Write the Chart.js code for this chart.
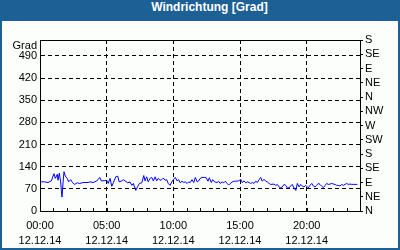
<!DOCTYPE html>
<html>
<head>
<meta charset="utf-8">
<script src="https://cdn.jsdelivr.net/npm/chart.js@4/dist/chart.umd.min.js"></script>
<style>
  body { margin: 0; background: #fff; }
  #frame { position: relative; width: 400px; height: 250px; background: #1d6096; }
  #title { position: absolute; left: 0; top: 0; width: 400px; height: 21px; line-height: 20px;
           color: #fff; font: bold 12px "Liberation Sans", Arial, sans-serif; text-align: center;
           padding-left: 19px; box-sizing: border-box; }
  #box { position: absolute; left: 2px; top: 21px; width: 396px; height: 227px; background: #fbfefb; }
  canvas { display: block; }
</style>
</head>
<body>
<div id="frame">
  <div id="title">Windrichtung [Grad]</div>
  <div id="box"><canvas id="windChart" width="396" height="227"></canvas></div>
</div>
<script>
// minutes since 00:00 on 12.12.14
const minutes = [3,21,36,51,63,69,78,81,87,93,96,99,104,108,114,123,129,138,147,156,168,179,194,216,224,239,253,261,269,276,291,300,307,315,323,330,341,350,356,368,375,383,395,405,413,420,431,440,447,458,467,473,480,487,495,503,510,518,525,532,540,548,555,563,570,577,585,593,600,609,617,624,631,639,647,654,662,669,676,684,692,699,707,714,721,729,741,748,756,762,771,777,786,797,804,811,819,827,834,842,849,856,864,872,879,894,903,910,918,926,933,941,948,956,963,971,978,986,993,1000,1008,1016,1023,1031,1038,1053,1061,1068,1076,1083,1090,1098,1106,1113,1121,1128,1135,1143,1151,1158,1166,1173,1180,1188,1196,1200,1207,1215,1223,1230,1238,1245,1252,1260,1268,1275,1283,1290,1297,1305,1313,1320,1328,1335,1342,1350,1358,1365,1373,1380,1387,1395,1403,1410,1418,1428];
const direction = [92,92,90,95,118,103,116,97,119,92,65,44,92,124,110,103,92,99,89,84,89,87,90,90,92,90,94,99,106,95,96,97,87,103,78,89,108,110,92,95,99,95,89,92,81,87,65,78,87,89,112,95,108,92,103,106,95,108,95,103,97,99,104,97,99,87,81,92,99,106,95,99,89,94,90,92,87,92,90,99,90,106,92,95,103,106,106,105,94,105,90,99,92,90,94,87,92,89,94,87,82,87,91,94,94,95,100,90,95,89,92,90,87,90,87,94,90,99,106,94,100,94,92,87,84,85,81,84,76,73,76,84,81,73,73,79,84,73,65,87,76,84,79,76,81,78,73,81,87,79,76,81,87,84,78,74,81,87,84,85,87,85,84,81,81,79,84,81,84,87,84,85,84,84,84,84];

const gradTicks = [0, 70, 140, 210, 280, 350, 420, 490];
const compass = ['N', 'NE', 'E', 'SE', 'S', 'SW', 'W', 'NW', 'N', 'NE', 'E', 'SE', 'S'];
const dateLabel = '12.12.14';

Chart.defaults.font.family = '"Liberation Sans", Arial, sans-serif';
Chart.defaults.font.size = 11;
Chart.defaults.color = '#000';

const points = minutes.map((m, i) => ({ x: m, y: direction[i] }));

function hhmm(m) {
    const h = Math.floor(m / 60);
    return (h < 10 ? '0' : '') + h + ':00';
}

// small hour marks pointing up from the bottom axis
const hourMarks = {
    id: 'hourMarks',
    afterDraw(chart) {
        const sx = chart.scales.x;
        const ctx = chart.ctx;
        const bottom = chart.chartArea.bottom;
        ctx.save();
        ctx.strokeStyle = '#000';
        ctx.lineWidth = 1;
        ctx.beginPath();
        sx.ticks.forEach(t => {
            if (t.value <= 0 || t.value >= 1440) return;
            const px = Math.round(sx.getPixelForValue(t.value)) + 0.5;
            ctx.moveTo(px, bottom);
            ctx.lineTo(px, bottom - 3);
        });
        ctx.stroke();
        ctx.restore();
    }
};

new Chart(document.getElementById('windChart').getContext('2d'), {
    type: 'line',
    data: {
        datasets: [{
            data: points,
            borderColor: '#0000ff',
            borderWidth: 1,
            pointRadius: 0,
            tension: 0,
            fill: false,
            yAxisID: 'y'
        }]
    },
    options: {
        responsive: false,
        animation: false,
        devicePixelRatio: 1,
        layout: { padding: { top: 19, left: 0, right: 0, bottom: 0 } },
        plugins: { legend: { display: false }, tooltip: { enabled: false } },
        scales: {
            x: {
                type: 'linear',
                position: 'bottom',
                min: 0,
                max: 1440,
                afterFit: s => { s.height = 37; },
                ticks: {
                    stepSize: 60,
                    autoSkip: false,
                    maxRotation: 0,
                    padding: 7,
                    font: { lineHeight: 1.4 },
                    callback: v => (v % 300 === 0 && v < 1440) ? [hhmm(v), dateLabel] : ''
                },
                grid: {
                    drawTicks: false,
                    color: c => (c.tick && c.tick.value % 300 === 0 && c.tick.value > 0 && c.tick.value < 1440) ? '#000' : 'rgba(0,0,0,0)'
                },
                border: { display: true, color: '#000', width: 1, dash: [4, 3] }
            },
            xTop: {
                type: 'linear',
                position: 'top',
                min: 0,
                max: 1440,
                afterFit: s => { s.height = 0; },
                ticks: { display: false },
                grid: { display: false, drawTicks: false },
                border: { display: true, color: '#000', width: 1 }
            },
            y: {
                type: 'linear',
                position: 'left',
                min: 0,
                max: 540,
                afterFit: s => { s.width = 38; },
                afterBuildTicks: s => {
                    s.ticks = gradTicks.concat([520]).map(v => ({ value: v }));
                },
                ticks: {
                    padding: 3,
                    autoSkip: false,
                    callback: v => v === 520 ? 'Grad' : String(v)
                },
                grid: {
                    drawTicks: false,
                    color: c => (c.tick && c.tick.value > 0 && c.tick.value < 520) ? '#000' : 'rgba(0,0,0,0)'
                },
                border: { display: true, color: '#000', width: 1, dash: [4, 3] }
            },
            yRight: {
                type: 'linear',
                position: 'right',
                min: 0,
                max: 540,
                afterFit: s => { s.width = 38; },
                ticks: {
                    stepSize: 45,
                    padding: 2,
                    autoSkip: false,
                    callback: v => compass[Math.round(v / 45)]
                },
                grid: { drawOnChartArea: false, drawTicks: true, tickLength: 3, color: '#000' },
                border: { display: true, color: '#000', width: 1 }
            }
        }
    },
    plugins: [hourMarks]
});
</script>
</body>
</html>
